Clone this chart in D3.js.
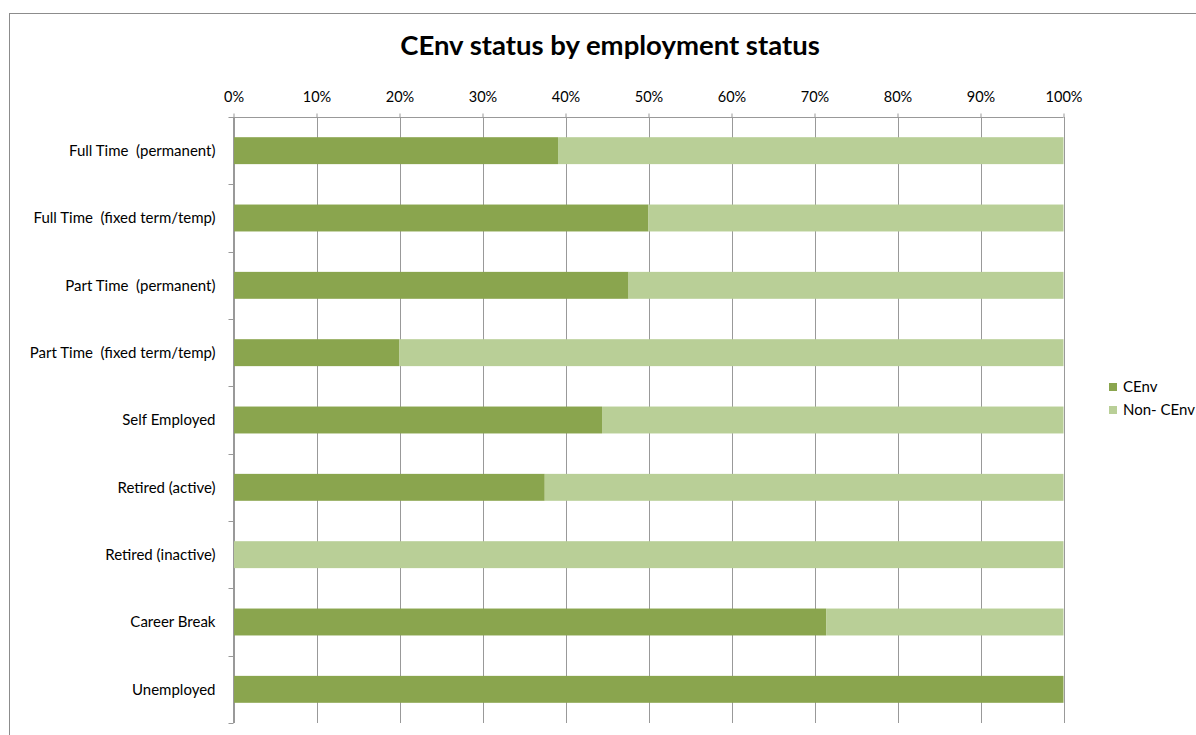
<!DOCTYPE html>
<html>
<head>
<meta charset="utf-8">
<script src="https://cdn.jsdelivr.net/npm/d3@7/dist/d3.min.js"></script>
<style>
  html, body { margin: 0; padding: 0; background: #fff; }
  svg { display: block; font-family: Lato, "Liberation Sans", sans-serif; }
</style>
</head>
<body>
<svg id="chart" width="1196" height="735"></svg>
<script>
// Employment categories, top to bottom
const categories = [
  "Full Time  (permanent)",
  "Full Time  (fixed term/temp)",
  "Part Time  (permanent)",
  "Part Time  (fixed term/temp)",
  "Self Employed",
  "Retired (active)",
  "Retired (inactive)",
  "Career Break",
  "Unemployed"
];
// Share of respondents with CEnv status (%)
const cenvShare = [39.1, 50.0, 47.6, 20.0, 44.4, 37.5, 0.0, 71.4, 100.0];
// Remaining share without CEnv status (%)
const nonCenvShare = [60.9, 50.0, 52.4, 80.0, 55.6, 62.5, 100.0, 28.6, 0.0];
const seriesNames = ["CEnv", "Non- CEnv"];
const seriesColors = ["#8aa54e", "#b9cf97"];
const tickValues = [0, 10, 20, 30, 40, 50, 60, 70, 80, 90, 100];

const svg = d3.select("#chart");

// Outer chart frame
svg.append("rect")
  .attr("x", 9.5).attr("y", 13.5)
  .attr("width", 1300).attr("height", 900)
  .attr("fill", "none").attr("stroke", "#8c8c8c").attr("stroke-width", 1);

const plot = { left: 233.5, right: 1063.5, top: 117, bottom: 723 };

const x = d3.scaleLinear().domain([0, 100]).range([plot.left, plot.right]);
const y = d3.scaleBand().domain(categories).range([plot.top, plot.bottom]).paddingInner(0.6).paddingOuter(0.3);

// Title
svg.append("text")
  .attr("x", 610).attr("y", 55)
  .attr("text-anchor", "middle")
  .attr("font-size", 27.5).attr("font-weight", "bold").attr("fill", "#000")
  .text("CEnv status by employment status");

// Vertical gridlines
svg.append("g").selectAll("line").data(tickValues).join("line")
  .attr("x1", d => Math.round(x(d)) + 0.5).attr("x2", d => Math.round(x(d)) + 0.5)
  .attr("y1", plot.top).attr("y2", plot.bottom)
  .attr("stroke", "#999").attr("stroke-width", 1);

// Top value axis
const xAxis = d3.axisTop(x)
  .tickValues(tickValues)
  .tickFormat(d => d + "%")
  .tickSize(4).tickPadding(12);
const gx = svg.append("g").attr("transform", `translate(0,${plot.top + 0.5})`).call(xAxis);
gx.select(".domain").attr("stroke", "#999").attr("d", `M${plot.left},0H${plot.right}`);
gx.selectAll(".tick line").attr("stroke", "#999");
gx.selectAll(".tick text").attr("font-size", 14.5).attr("fill", "#000")
  .attr("font-family", "Lato, sans-serif");

// Stacked data
const rows = categories.map((c, i) => ({ cat: c, CEnv: cenvShare[i], "Non- CEnv": nonCenvShare[i] }));
const stacked = d3.stack().keys(seriesNames)(rows);

svg.append("g").selectAll("g").data(stacked).join("g")
  .attr("fill", (d, i) => seriesColors[i])
  .selectAll("rect").data(d => d).join("rect")
  .attr("x", d => x(d[0]))
  .attr("y", d => y(d.data.cat))
  .attr("width", d => x(d[1]) - x(d[0]))
  .attr("height", y.bandwidth());

// Left category axis with ticks at band boundaries
svg.append("line")
  .attr("x1", plot.left).attr("x2", plot.left)
  .attr("y1", plot.top).attr("y2", plot.bottom)
  .attr("stroke", "#999");
const boundaries = d3.range(categories.length + 1).map(i => plot.top + i * (plot.bottom - plot.top) / categories.length);
svg.append("g").selectAll("line").data(boundaries).join("line")
  .attr("x1", plot.left - 5).attr("x2", plot.left)
  .attr("y1", d => Math.round(d) + 0.5).attr("y2", d => Math.round(d) + 0.5)
  .attr("stroke", "#999");

svg.append("g").selectAll("text").data(categories).join("text")
  .attr("x", plot.left - 18)
  .attr("y", d => y(d) + y.bandwidth() / 2)
  .attr("dy", "0.35em")
  .attr("text-anchor", "end")
  .attr("font-size", 15).attr("fill", "#000")
  .style("white-space", "pre")
  .text(d => d);

// Legend
const legend = svg.append("g").attr("transform", "translate(1109,383)");
seriesNames.forEach((name, i) => {
  const g = legend.append("g").attr("transform", `translate(0,${i * 23})`);
  g.append("rect").attr("width", 8).attr("height", 8).attr("fill", seriesColors[i]);
  g.append("text").attr("x", 14).attr("y", 4).attr("dy", "0.35em")
    .attr("font-size", 15).attr("fill", "#000").text(name);
});
</script>
</body>
</html>
